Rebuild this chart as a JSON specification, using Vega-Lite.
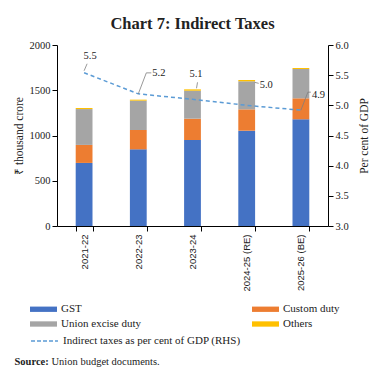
{
  "$schema": "https://vega.github.io/schema/vega-lite/v6.json",
  "autosize": {"type": "none"},
  "width": 271,
  "height": 181,
  "padding": {"left": 57, "top": 45, "right": 52, "bottom": 153},
  "background": "white",
  "config": {
    "font": "Liberation Serif",
    "view": {"stroke": null},
    "axis": {"labelFont": "Liberation Serif", "titleFont": "Liberation Serif", "labelColor": "#222", "titleColor": "#222", "domainColor": "#000", "tickColor": "#000", "grid": false, "titleFontWeight": "normal", "labelOverlap": false}
  },
  "title": {"text": "Chart 7: Indirect Taxes", "font": "Liberation Serif", "fontSize": 16.5, "fontWeight": "bold", "color": "#222", "anchor": "middle", "offset": 8},
  "datasets": {
    "bars": [
      {"year": "2021-22", "category": "GST", "stackOrder": 1, "value": 697},
      {"year": "2021-22", "category": "Custom duty", "stackOrder": 2, "value": 199},
      {"year": "2021-22", "category": "Union excise duty", "stackOrder": 3, "value": 396},
      {"year": "2021-22", "category": "Others", "stackOrder": 4, "value": 12},
      {"year": "2022-23", "category": "GST", "stackOrder": 1, "value": 847},
      {"year": "2022-23", "category": "Custom duty", "stackOrder": 2, "value": 214},
      {"year": "2022-23", "category": "Union excise duty", "stackOrder": 3, "value": 324},
      {"year": "2022-23", "category": "Others", "stackOrder": 4, "value": 11},
      {"year": "2023-24", "category": "GST", "stackOrder": 1, "value": 950},
      {"year": "2023-24", "category": "Custom duty", "stackOrder": 2, "value": 236},
      {"year": "2023-24", "category": "Union excise duty", "stackOrder": 3, "value": 309},
      {"year": "2023-24", "category": "Others", "stackOrder": 4, "value": 15},
      {"year": "2024-25 (RE)", "category": "GST", "stackOrder": 1, "value": 1053},
      {"year": "2024-25 (RE)", "category": "Custom duty", "stackOrder": 2, "value": 236},
      {"year": "2024-25 (RE)", "category": "Union excise duty", "stackOrder": 3, "value": 310},
      {"year": "2024-25 (RE)", "category": "Others", "stackOrder": 4, "value": 14},
      {"year": "2025-26 (BE)", "category": "GST", "stackOrder": 1, "value": 1179},
      {"year": "2025-26 (BE)", "category": "Custom duty", "stackOrder": 2, "value": 232},
      {"year": "2025-26 (BE)", "category": "Union excise duty", "stackOrder": 3, "value": 324},
      {"year": "2025-26 (BE)", "category": "Others", "stackOrder": 4, "value": 11}
    ],
    "line": [
      {"year": "2021-22", "pct": 5.54, "series": "Indirect taxes as per cent of GDP (RHS)"},
      {"year": "2022-23", "pct": 5.19, "series": "Indirect taxes as per cent of GDP (RHS)"},
      {"year": "2023-24", "pct": 5.1, "series": "Indirect taxes as per cent of GDP (RHS)"},
      {"year": "2024-25 (RE)", "pct": 5.0, "series": "Indirect taxes as per cent of GDP (RHS)"},
      {"year": "2025-26 (BE)", "pct": 4.92, "series": "Indirect taxes as per cent of GDP (RHS)"}
    ]
  },
  "layer": [
    {
      "data": {"name": "bars"},
      "mark": {"type": "bar"},
      "encoding": {
        "x": {
          "field": "year", "type": "nominal", "sort": null,
          "scale": {"paddingInner": 0.69, "paddingOuter": 0.345},
          "axis": {"orient": "bottom", "labelAngle": 270, "labelFont": "Liberation Sans", "labelFontSize": 9.5, "labelPadding": 3, "tickSize": 5, "tickBand": "extent",
            "title": "Source:", "titleFontWeight": "bold", "titleFontSize": 10.5, "titleAlign": "left", "titleAnchor": "start", "titleBaseline": "alphabetic", "titleX": -43, "titleY": 138, "titleAngle": 0}
        },
        "y": {
          "field": "value", "type": "quantitative", "aggregate": "sum", "stack": "zero",
          "scale": {"domain": [0, 2000]},
          "axis": {"orient": "left", "values": [0, 500, 1000, 1500, 2000], "format": "d", "labelFontSize": 10.5, "tickSize": 5, "labelPadding": 2, "title": "₹ thousand crore", "titleFontSize": 11.5, "titlePadding": 5}
        },
        "order": {"field": "stackOrder", "type": "quantitative", "sort": "ascending"},
        "color": {
          "field": "category", "type": "nominal",
          "sort": ["GST", "Custom duty", "Union excise duty", "Others"],
          "scale": {"domain": ["GST", "Custom duty", "Union excise duty", "Others"], "range": ["#4472C4", "#ED7D31", "#A5A5A5", "#FFC000"]},
          "legend": {"orient": "none", "legendX": -23, "legendY": 254.5, "direction": "horizontal", "columns": 2, "title": null,
            "symbolType": "M-1.42,-0.28H1.42V0.28H-1.42Z", "symbolSize": 361, "symbolStrokeWidth": 0, "labelFont": "Liberation Serif", "labelFontSize": 11, "labelColor": "#222", "labelOffset": 8, "columnPadding": 110, "rowPadding": 0}
        }
      }
    },
    {
      "data": {"name": "line"},
      "encoding": {
        "x": {"field": "year", "type": "nominal", "sort": null, "bandPosition": 0.5,
          "axis": {"orient": "top", "labels": false, "ticks": false, "domain": false,
            "title": "Union budget documents.", "titleFontWeight": "normal", "titleFontSize": 10.5, "titleAlign": "left", "titleAnchor": "start", "titleBaseline": "alphabetic", "titleX": -6, "titleY": 319, "titleAngle": 0}},
        "y": {"field": "pct", "type": "quantitative", "scale": {"domain": [3, 6]},
          "axis": {"orient": "right", "values": [3, 3.5, 4, 4.5, 5, 5.5, 6], "format": ".1f", "labelOverlap": false, "labelFontSize": 10.5, "tickSize": 5, "labelPadding": 2, "title": "Per cent of GDP", "titleFontSize": 11.5, "titlePadding": 10, "titleAngle": 270, "titleBaseline": "top"}}
      },
      "layer": [
        {
          "mark": {"type": "line", "color": "#5B9BD5", "strokeDash": [4, 3], "strokeWidth": 1.5},
          "encoding": {
            "stroke": {"field": "series", "type": "nominal", "scale": {"range": ["#5B9BD5"]},
              "legend": {"orient": "none", "legendX": -23, "legendY": 285.5, "title": null, "symbolType": "M-1.42,0H1.42", "symbolSize": 361, "symbolStrokeWidth": 1.5, "symbolDash": [4, 2], "labelFont": "Liberation Serif", "labelFontSize": 11, "labelColor": "#222", "labelOffset": 8, "labelLimit": 400}}
          }
        },
        {
          "transform": [{"filter": "datum.year == '2021-22'"}],
          "mark": {"type": "text", "align": "center", "baseline": "middle", "dx": 6, "dy": -17, "fontSize": 10.5, "color": "#222"},
          "encoding": {"text": {"field": "pct", "type": "quantitative", "format": ".1f"}}
        },
        {
          "transform": [{"filter": "datum.year == '2022-23'"}],
          "mark": {"type": "text", "align": "left", "baseline": "middle", "dx": 14, "dy": -20.5, "fontSize": 10.5, "color": "#222"},
          "encoding": {"text": {"field": "pct", "type": "quantitative", "format": ".1f"}}
        },
        {
          "transform": [{"filter": "datum.year == '2023-24'"}],
          "mark": {"type": "text", "align": "center", "baseline": "middle", "dx": 3.5, "dy": -25.6, "fontSize": 10.5, "color": "#222"},
          "encoding": {"text": {"field": "pct", "type": "quantitative", "format": ".1f"}}
        },
        {
          "transform": [{"filter": "datum.year == '2024-25 (RE)'"}],
          "mark": {"type": "text", "align": "left", "baseline": "middle", "dx": 13, "dy": -20.7, "fontSize": 10.5, "color": "#222"},
          "encoding": {"text": {"field": "pct", "type": "quantitative", "format": ".1f"}}
        },
        {
          "transform": [{"filter": "datum.year == '2025-26 (BE)'"}],
          "mark": {"type": "text", "align": "left", "baseline": "middle", "dx": 11, "dy": -15.4, "fontSize": 10.5, "color": "#222"},
          "encoding": {"text": {"field": "pct", "type": "quantitative", "format": ".1f"}}
        },
        {
          "transform": [{"filter": "datum.year == '2021-22'"}],
          "mark": {"type": "rule", "color": "#7F7F7F", "strokeWidth": 0.8, "xOffset": 0, "yOffset": -2, "x2Offset": 3, "y2Offset": -9},
          "encoding": {"x2": {"field": "year", "bandPosition": 0.5}, "y2": {"field": "pct"}}
        },
        {
          "transform": [{"filter": "datum.year == '2022-23'"}],
          "mark": {"type": "rule", "color": "#7F7F7F", "strokeWidth": 0.8, "xOffset": 0, "yOffset": 0, "x2Offset": 8, "y2Offset": -21},
          "encoding": {"x2": {"field": "year", "bandPosition": 0.5}, "y2": {"field": "pct"}}
        },
        {
          "transform": [{"filter": "datum.year == '2022-23'"}],
          "mark": {"type": "rule", "color": "#7F7F7F", "strokeWidth": 0.8, "xOffset": 8, "yOffset": -21, "x2Offset": 13, "y2Offset": -21},
          "encoding": {"x2": {"field": "year", "bandPosition": 0.5}, "y2": {"field": "pct"}}
        },
        {
          "transform": [{"filter": "datum.year == '2023-24'"}],
          "mark": {"type": "rule", "color": "#7F7F7F", "strokeWidth": 0.8, "xOffset": 4, "yOffset": -11, "x2Offset": 5, "y2Offset": -17},
          "encoding": {"x2": {"field": "year", "bandPosition": 0.5}, "y2": {"field": "pct"}}
        },
        {
          "transform": [{"filter": "datum.year == '2024-25 (RE)'"}],
          "mark": {"type": "rule", "color": "#7F7F7F", "strokeWidth": 0.8, "xOffset": 8, "yOffset": -23, "x2Offset": 12, "y2Offset": -22},
          "encoding": {"x2": {"field": "year", "bandPosition": 0.5}, "y2": {"field": "pct"}}
        },
        {
          "transform": [{"filter": "datum.year == '2025-26 (BE)'"}],
          "mark": {"type": "rule", "color": "#7F7F7F", "strokeWidth": 0.8, "xOffset": 0, "yOffset": 0, "x2Offset": 7, "y2Offset": -18},
          "encoding": {"x2": {"field": "year", "bandPosition": 0.5}, "y2": {"field": "pct"}}
        },
        {
          "transform": [{"filter": "datum.year == '2025-26 (BE)'"}],
          "mark": {"type": "rule", "color": "#7F7F7F", "strokeWidth": 0.8, "xOffset": 7, "yOffset": -18, "x2Offset": 10, "y2Offset": -18},
          "encoding": {"x2": {"field": "year", "bandPosition": 0.5}, "y2": {"field": "pct"}}
        }
      ]
    }
  ],
  "resolve": {"scale": {"y": "independent"}, "axis": {"x": "independent"}}
}
